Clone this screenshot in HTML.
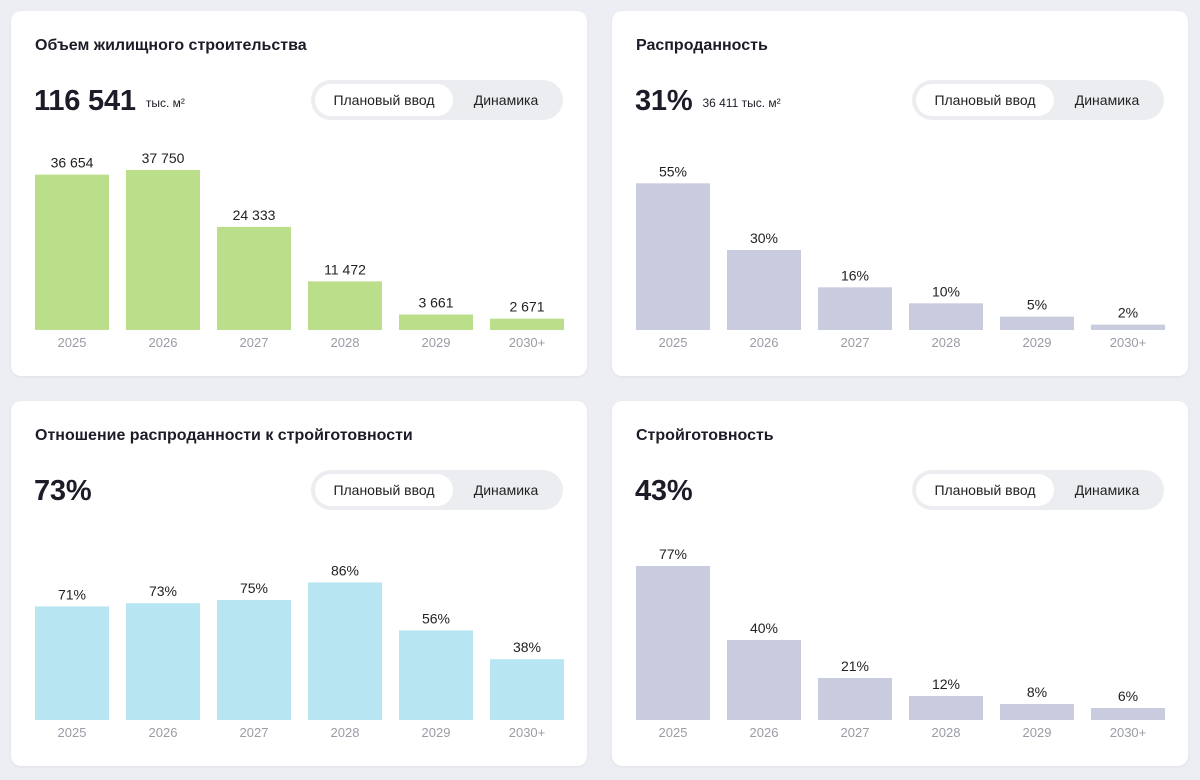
<!DOCTYPE html>
<html><head><meta charset="utf-8"><style>
body{margin:0;width:1200px;height:780px;background:#eceef3;font-family:"Liberation Sans",sans-serif;position:relative;overflow:hidden}
.card{position:absolute;width:576px;height:365px;background:#fff;border-radius:10px;box-shadow:0 1px 3px rgba(0,0,0,.06)}
.title{position:absolute;left:24px;top:26px;font-size:16px;font-weight:bold;color:#1c1c28}
.big{position:absolute;left:23px;top:74px;font-size:29px;font-weight:bold;color:#1c1c28;letter-spacing:-0.2px}
.unit{font-size:12px;font-weight:normal;margin-left:10px;letter-spacing:0;vertical-align:3px}
.toggle{position:absolute;left:300px;top:69px;width:252px;height:40px;border-radius:20px;background:#ebedf0}
.opt{position:absolute;top:4px;height:32px;line-height:32px;font-size:14px;color:#222;text-align:center;border-radius:16px}
.opt.a{left:4px;width:138px;background:#fff}
.opt.b{left:142px;width:106px}
svg{position:absolute;left:0;top:0}
</style></head><body>
<script>
const cats=['2025','2026','2027','2028','2029','2030+'];
const v1=[36654,37750,24333,11472,3661,2671];
const l1=['36 654','37 750','24 333','11 472','3 661','2 671'];
const v2=[55,30,16,10,5,2];
const v3=[71,73,75,86,56,38];
const v4=[77,40,21,12,8,6];
const charts=[
 {x:11,y:11,t:'Объем жилищного строительства',big:'116 541',unit:'тыс. м²',vals:v1,labels:l1,max:37750,color:'#bade8a',name:'housing-volume'},
 {x:612,y:11,t:'Распроданность',big:'31%',unit:'36 411 тыс. м²',vals:v2,labels:v2.map(v=>v+'%'),max:60,color:'#c9cbdf',name:'sold-out'},
 {x:11,y:401,t:'Отношение распроданности к стройготовности',big:'73%',unit:'',vals:v3,labels:v3.map(v=>v+'%'),max:100,color:'#b7e5f2',name:'sold-to-readiness'},
 {x:612,y:401,t:'Стройготовность',big:'43%',unit:'',vals:v4,labels:v4.map(v=>v+'%'),max:80,color:'#c9cbdf',name:'construction-readiness'}
];
const NS='http://www.w3.org/2000/svg';
charts.forEach(c=>{
 const card=document.createElement('div');card.className='card';
 
 
 card.style.left=c.x+'px';card.style.top=c.y+'px';
 card.innerHTML='<div class="title">'+c.t+'</div>'+
  '<div class="big">'+c.big+(c.unit?'<span class="unit">'+c.unit+'</span>':'')+'</div>'+
  '<div class="toggle"><div class="opt a">Плановый ввод</div><div class="opt b">Динамика</div></div>';
 const svg=document.createElementNS(NS,'svg');
 svg.setAttribute('width',576);svg.setAttribute('height',365);
 
 
 const base=319,H=160;
 const yS=v=>v/c.max*H;
 const xS=i=>24+i*91;
 c.vals.forEach((v,i)=>{
  const h=yS(v);
  const r=document.createElementNS(NS,'rect');
  r.setAttribute('x',xS(i));r.setAttribute('y',base-h);r.setAttribute('width',74);r.setAttribute('height',h);r.setAttribute('fill',c.color);
  
  
  svg.appendChild(r);
  const t=document.createElementNS(NS,'text');
  t.setAttribute('x',xS(i)+37);t.setAttribute('y',base-h-7);t.setAttribute('text-anchor','middle');
  t.setAttribute('font-size','14');t.setAttribute('fill','#222');t.textContent=c.labels[i];
  
  
  svg.appendChild(t);
  const y=document.createElementNS(NS,'text');
  y.setAttribute('x',xS(i)+37);y.setAttribute('y',base+17);y.setAttribute('text-anchor','middle');
  y.setAttribute('font-size','13');y.setAttribute('fill','#9a9ca6');y.textContent=cats[i];
  
  
  svg.appendChild(y);
 });
 card.appendChild(svg);
 document.body.appendChild(card);
});
</script>
</body></html>
